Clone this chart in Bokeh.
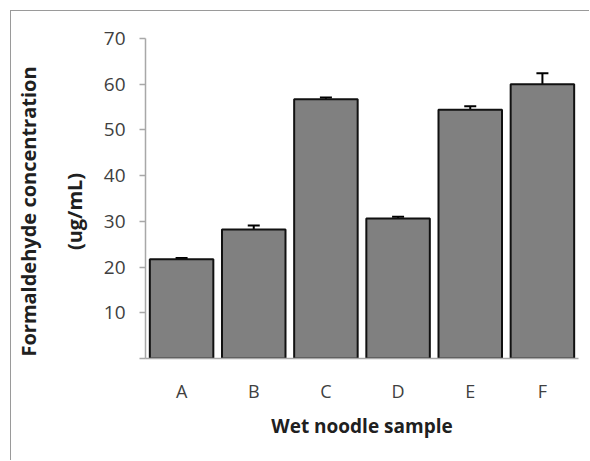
from bokeh.plotting import figure
from bokeh.models import (ColumnDataSource, FixedTicker, Whisker, TeeHead,
                          FactorRange, Range1d, LinearAxis)
from bokeh.embed import file_html
from bokeh.resources import INLINE

samples = ["A", "B", "C", "D", "E", "F"]
concentration = [21.7, 28.2, 56.7, 30.6, 54.4, 60.0]
error = [0.3, 0.9, 0.4, 0.4, 0.8, 2.4]
y_ticks = [0, 10, 20, 30, 40, 50, 60, 70]

upper = [v + e for v, e in zip(concentration, error)]
lower = [v - e for v, e in zip(concentration, error)]
src = ColumnDataSource(dict(x=samples, top=concentration, upper=upper, lower=lower))

FONT = "Open Sans"
PAD = "\u00a0" * 5

p = figure(width=579, height=450, x_range=FactorRange(*samples, range_padding=0),
           y_range=Range1d(0, 70), output_backend="svg", toolbar_location=None,
           min_border_left=132, min_border_right=12, min_border_top=27,
           min_border_bottom=103)
p.styles = {"margin-left": "10px", "margin-top": "10px",
            "border-left": "1px solid #9a9a9a", "border-top": "1px solid #9a9a9a"}
p.xgrid.grid_line_color = None
p.ygrid.grid_line_color = None
p.outline_line_color = None

p.vbar(x="x", top="top", width=0.88, source=src, fill_color="#808080",
       line_color="#111111", line_width=2)

w = Whisker(base="x", upper="upper", lower="lower", source=src,
            line_color="black", line_width=2,
            upper_head=TeeHead(size=12, line_color="black", line_width=2),
            lower_head=TeeHead(size=12, line_color="black", line_width=2))
p.add_layout(w)

# y axis
ya = p.yaxis[0]
ya.ticker = FixedTicker(ticks=y_ticks)
ya.major_label_overrides = {0: ""}
ya.axis_line_color = "#a8a8a8"
ya.axis_line_width = 1.5
ya.major_tick_line_color = "#a8a8a8"
ya.major_tick_line_width = 1.5
ya.major_tick_out = 6
ya.major_tick_in = 0
ya.minor_tick_line_color = None
ya.major_label_standoff = 14
ya.major_label_text_font = FONT
ya.major_label_text_font_size = "19px"
ya.major_label_text_color = "#404040"
ya.axis_label = "(ug/mL)" + PAD
ya.axis_label_text_font = FONT
ya.axis_label_text_font_size = "20px"
ya.axis_label_text_font_style = "bold"
ya.axis_label_text_color = "#202020"
ya.axis_label_standoff = 13

# outer y title line
ya2 = LinearAxis(ticker=FixedTicker(ticks=[]), axis_line_color=None,
                 major_tick_line_color=None, minor_tick_line_color=None,
                 major_tick_out=0, major_tick_in=0, major_label_standoff=0,
                 axis_label="Formaldehyde concentration" + PAD,
                 axis_label_text_font=FONT, axis_label_text_font_size="20px",
                 axis_label_text_font_style="bold", axis_label_text_color="#202020",
                 axis_label_standoff=16)
p.add_layout(ya2, "left")

# x axis
xa = p.xaxis[0]
xa.axis_line_color = "#a8a8a8"
xa.axis_line_width = 1.5
xa.major_tick_line_color = None
xa.major_label_standoff = 14
xa.major_label_text_font = FONT
xa.major_label_text_font_size = "18px"
xa.major_label_text_color = "#404040"
xa.axis_label = "Wet noodle sample"
xa.axis_label_text_font = FONT
xa.axis_label_text_font_size = "19px"
xa.axis_label_text_font_style = "bold"
xa.axis_label_text_color = "#202020"
xa.axis_label_standoff = 7

open("out.html", "w").write(file_html(p, INLINE))
